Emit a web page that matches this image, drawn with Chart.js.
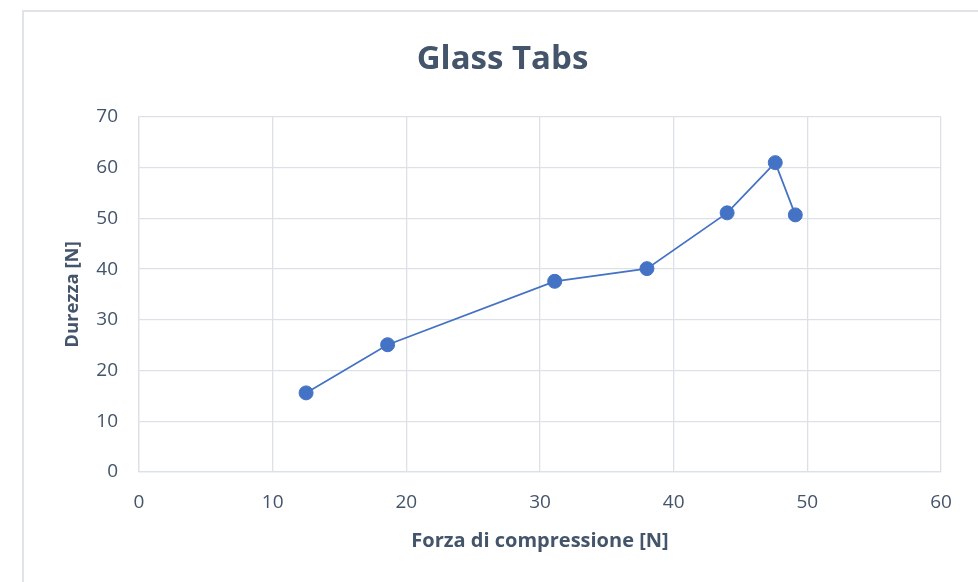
<!DOCTYPE html>
<html>
<head>
<meta charset="utf-8">
<script src="https://cdn.jsdelivr.net/npm/chart.js@4/dist/chart.umd.min.js"></script>
<style>
  html, body { margin: 0; padding: 0; background: #ffffff; overflow: hidden; }
  #frame {
    position: absolute; left: 22px; top: 10px; width: 1000px; height: 620px;
    border: 2px solid #dfe3ea; box-sizing: border-box;
  }
  #chart { position: absolute; left: 0; top: 0; }
</style>
</head>
<body>
<div id="frame"></div>
<canvas id="chart" width="978" height="582"></canvas>
<script>
// Compression force (x) and hardness (y), both in newtons
const forza = [12.5, 18.6, 31.1, 38.0, 44.0, 47.6, 49.1];
const durezza = [15.6, 25.1, 37.6, 40.1, 51.1, 61.0, 50.7];

const chartTitle = 'Glass Tabs';
const xTitle = 'Forza di compressione [N]';
const yTitle = 'Durezza [N]';
const xRange = [0, 60];
const yRange = [0, 70];
const tickStep = 10;

const FONT = "'Open Sans', 'DejaVu Sans', sans-serif";
const TEXT = '#44546A';
const GRID = '#DCE1E8';
const BLUE = '#4472C4';

const points = forza.map((x, i) => ({ x: x, y: durezza[i] }));

new Chart(document.getElementById('chart'), {
  type: 'scatter',
  data: {
    datasets: [{
      data: points,
      showLine: true,
      borderColor: BLUE,
      borderWidth: 1.75,
      backgroundColor: BLUE,
      pointRadius: 7,
      pointBorderWidth: 1,
      pointBorderColor: BLUE,
      pointBackgroundColor: BLUE
    }]
  },
  options: {
    responsive: false,
    devicePixelRatio: 1,
    animation: false,
    layout: { padding: { left: 64, right: 37, top: 0, bottom: 0 } },
    plugins: {
      legend: { display: false },
      tooltip: { enabled: false },
      title: {
        display: true,
        text: chartTitle,
        color: TEXT,
        font: { family: FONT, size: 33, weight: 'bold', lineHeight: 1.2 },
        padding: { top: 40, bottom: 37.4 }
      }
    },
    scales: {
      x: {
        type: 'linear',
        min: xRange[0], max: xRange[1],
        afterFit: (s) => { s.height = 110; },
        ticks: {
          stepSize: tickStep,
          color: TEXT,
          padding: 19,
          font: { family: FONT, size: 19, lineHeight: 1.2 }
        },
        grid: { color: GRID, lineWidth: 1.3, drawTicks: false },
        border: { color: GRID, width: 1.3 },
        title: {
          display: true,
          text: xTitle,
          color: TEXT,
          font: { family: FONT, size: 20, weight: 'bold', lineHeight: 1.2 },
          padding: { top: 0, bottom: 29 }
        }
      },
      y: {
        type: 'linear',
        min: yRange[0], max: yRange[1],
        afterFit: (s) => { s.width = 75; },
        ticks: {
          stepSize: tickStep,
          color: TEXT,
          padding: 21,
          font: { family: FONT, size: 19, lineHeight: 1.2 }
        },
        grid: { color: GRID, lineWidth: 1.3, drawTicks: false },
        border: { color: GRID, width: 1.3 },
        title: {
          display: true,
          text: yTitle,
          color: TEXT,
          font: { family: FONT, size: 18.5, weight: 'bold', lineHeight: 1 },
          padding: { top: -0.5, bottom: 0 }
        }
      }
    }
  }
});
</script>
</body>
</html>
